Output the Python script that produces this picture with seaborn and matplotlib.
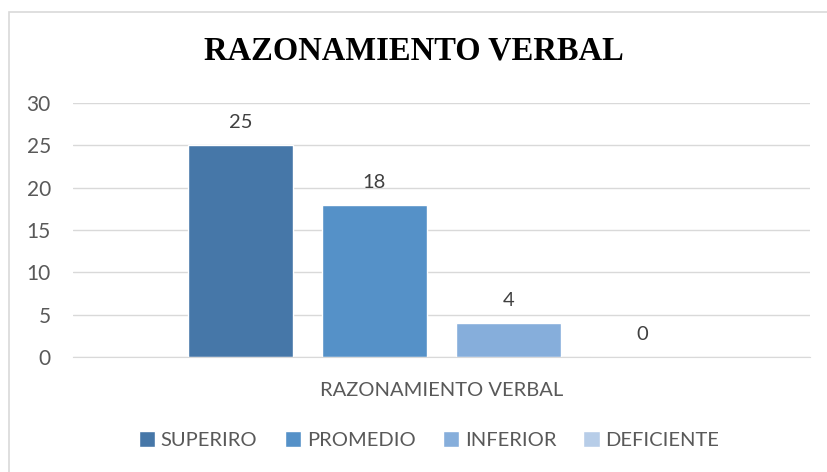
import numpy as np
import pandas as pd
import seaborn as sns
import matplotlib.pyplot as plt
from matplotlib.patches import Rectangle

# data
grupo = ['RAZONAMIENTO VERBAL']
niveles = ['SUPERIRO', 'PROMEDIO', 'INFERIOR', 'DEFICIENTE']
cantidad = [25, 18, 4, 0]
colores = ['#4677A8', '#5591C8', '#86AEDB', '#B7CDE8']

df = pd.DataFrame({'grupo': grupo * len(niveles), 'nivel': niveles, 'cantidad': cantidad})

sns.set_style('white')
plt.rcParams['font.family'] = ['Lato', 'DejaVu Sans']

fig = plt.figure(figsize=(8.28, 4.72), dpi=100)
ax = fig.add_axes([73 / 828, 1 - 357 / 472, (810 - 73) / 828, (357 - 103) / 472])

sns.barplot(data=df, x='grupo', y='cantidad', hue='nivel', hue_order=niveles,
            palette=colores, saturation=1, width=0.727, gap=0.21, ax=ax, legend=True)

for c in ax.containers:
    ax.bar_label(c, padding=10, fontsize=14.5, color='#404040')

ax.set_ylim(0, 30)
ax.set_yticks(range(0, 31, 5))
ax.grid(axis='y', color='#D9D9D9', linewidth=1)
ax.set_axisbelow(True)
for s in ['top', 'right', 'left']:
    ax.spines[s].set_visible(False)
ax.spines['bottom'].set_color('#D9D9D9')
ax.tick_params(axis='y', length=0, labelsize=15, labelcolor='#595959', pad=16)
ax.tick_params(axis='x', length=0, labelsize=14.5, labelcolor='#595959', pad=18)
ax.set_xlabel('')
ax.set_ylabel('')

fig.text(0.5, 1 - 51 / 472, 'RAZONAMIENTO VERBAL', ha='center', va='center',
         fontsize=23.5, fontweight='bold', family='Liberation Serif', color='black')

ax.legend(loc='center', bbox_to_anchor=(429 / 828, 1 - 440 / 472), bbox_transform=fig.transFigure,
          ncol=4, frameon=False, fontsize=14.5, labelcolor='#595959',
          handlelength=0.8, handleheight=0.8, handletextpad=0.3, columnspacing=1.35)

fig.patches.append(Rectangle((9 / 828, -0.1), 1.2, 1 - 12 / 472 + 0.1, transform=fig.transFigure,
                             fill=False, edgecolor='#D9D9D9', linewidth=1.2))

fig.savefig('out.png', dpi=100)
